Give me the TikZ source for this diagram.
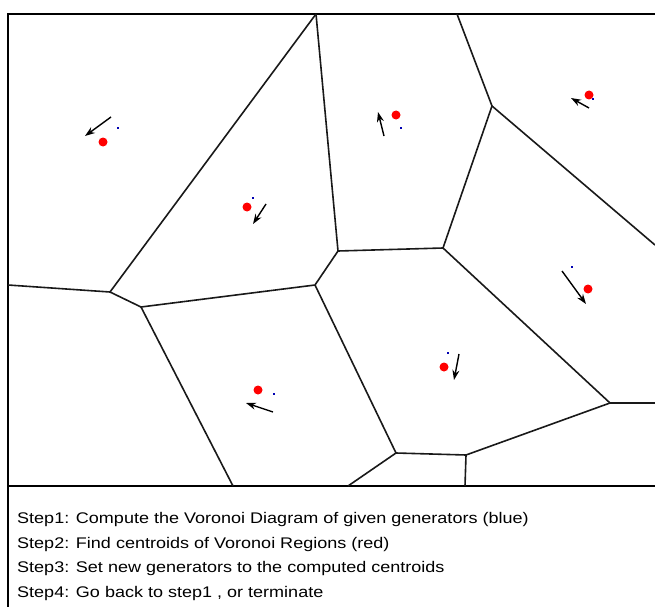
\documentclass[tikz,border=0pt]{standalone}
\usepackage{fontspec}
\setmainfont{Liberation Sans}[FakeStretch=1.17]
\usetikzlibrary{arrows.meta}

\tikzset{
  edge/.style={line width=1.6pt, black!90},
  frame/.style={line width=1.6pt, black},
  move/.style={line width=1.4pt, -{Stealth[length=10pt,width=7pt]}},
  gen/.style={fill=blue!70!black, minimum size=2.6pt, inner sep=0pt},
  cent/.style={circle, fill=red, minimum size=9pt, inner sep=0pt},
  steptext/.style={anchor=base west, inner sep=0pt, font=\fontsize{15.4}{18}\selectfont}
}

\begin{document}
\begin{tikzpicture}[x=1pt,y=-1pt]
\useasboundingbox (0,0) rectangle (655,607);

% frame and separator
\draw[frame] (655,14) -- (8,14) -- (8,607);
\draw[frame] (8,486) -- (655,486);

% Voronoi vertices
\coordinate (t1) at (316,14);
\coordinate (t2) at (457,14);
\coordinate (l1) at (8,285);
\coordinate (vb) at (110,292);
\coordinate (vc) at (141,307);
\coordinate (ve) at (315,285);
\coordinate (vd) at (338,251);
\coordinate (vg) at (443,248);
\coordinate (vh) at (492,106);
\coordinate (r1) at (655,245);
\coordinate (vi) at (610,403);
\coordinate (r2) at (655,403);
\coordinate (vj) at (466,455);
\coordinate (vf) at (396,453);
\coordinate (b1) at (233,486);
\coordinate (b2) at (348,486);
\coordinate (b3) at (465,486);

% Voronoi edges
\draw[edge] (t1) -- (vb) -- (l1);
\draw[edge] (vb) -- (vc) -- (ve) -- (vd) -- (t1);
\draw[edge] (vd) -- (vg) -- (vh) -- (t2);
\draw[edge] (vh) -- (r1);
\draw[edge] (vg) -- (vi) -- (r2);
\draw[edge] (vi) -- (vj) -- (vf) -- (ve);
\draw[edge] (vf) -- (b2);
\draw[edge] (vj) -- (b3);
\draw[edge] (vc) -- (b1);

% generators (blue) and centroids (red)
\node[gen] (g1) at (118,128) {};
\node[gen] (g2) at (253,198) {};
\node[gen] (g3) at (401,128) {};
\node[gen] (g4) at (593,99) {};
\node[gen] (g5) at (572,267) {};
\node[gen] (g6) at (448,353) {};
\node[gen] (g7) at (274,394) {};

\node[cent] (c1) at (103,142) {};
\node[cent] (c2) at (247,207) {};
\node[cent] (c3) at (396,115) {};
\node[cent] (c4) at (589,95) {};
\node[cent] (c5) at (588,289) {};
\node[cent] (c6) at (444,367) {};
\node[cent] (c7) at (258,390) {};

% moves of the generators
\coordinate (m1s) at (111,117); \coordinate (m1e) at (85,136);
\coordinate (m2s) at (266,204); \coordinate (m2e) at (253,224);
\coordinate (m3s) at (384,136); \coordinate (m3e) at (378,112);
\coordinate (m4s) at (589,108); \coordinate (m4e) at (571,98);
\coordinate (m5s) at (562,271); \coordinate (m5e) at (586,304);
\coordinate (m6s) at (459,354); \coordinate (m6e) at (454,380);
\coordinate (m7s) at (273,412); \coordinate (m7e) at (246,403);
\draw[move] (m1s) -- (m1e);
\draw[move] (m2s) -- (m2e);
\draw[move] (m3s) -- (m3e);
\draw[move] (m4s) -- (m4e);
\draw[move] (m5s) -- (m5e);
\draw[move] (m6s) -- (m6e);
\draw[move] (m7s) -- (m7e);

% the steps
\node[steptext] (s1) at (17,523) {Step1: Compute the Voronoi Diagram of given generators (blue)};
\node[steptext] (s2) at (17,548) {Step2: Find centroids of Voronoi Regions (red)};
\node[steptext] (s3) at (17,572) {Step3: Set new generators to the computed centroids};
\node[steptext] (s4) at (17,597) {Step4: Go back to step1 , or terminate};
\end{tikzpicture}
\end{document}
